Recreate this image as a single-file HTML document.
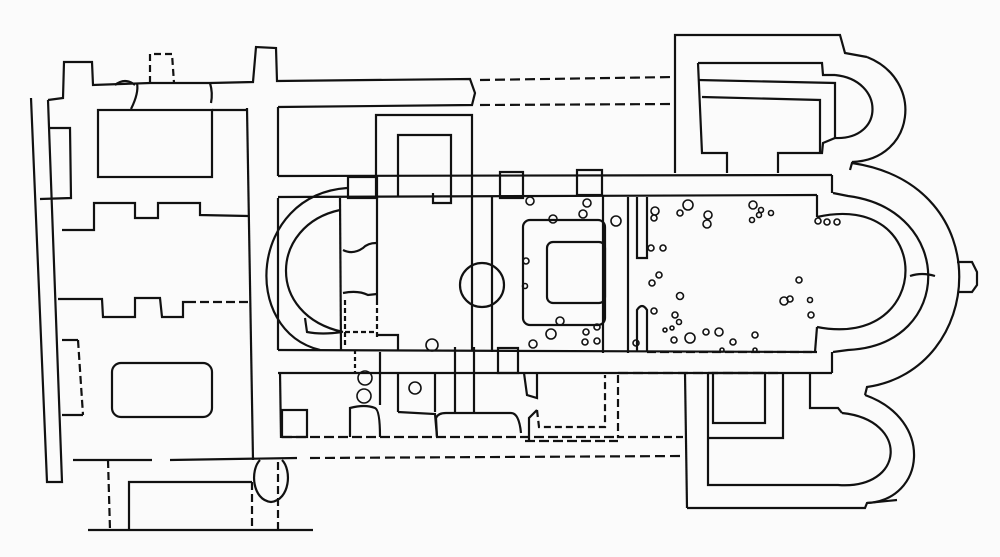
<!DOCTYPE html>
<html><head><meta charset="utf-8"><style>
html,body{margin:0;padding:0;background:#fbfbfb;}
svg{display:block}
</style></head><body>
<svg width="1000" height="557" viewBox="0 0 1000 557" xmlns="http://www.w3.org/2000/svg" fill="none" stroke="#111" stroke-width="2.2" stroke-linejoin="miter">
<rect width="1000" height="557" fill="#fbfbfb" stroke="none"/>
<g>
<polyline points="31,98 47,482 62,482 48,100"/>
<polyline points="48,100 63,98 64,62 92,62 93,85 150,83 210,83 253,82 256,47 276,48 277,81 470,79 475,93 472,105 278,107"/>
<path d="M115,85 q10,-8 20,0"/>
<polyline points="150,83 150,54 172,54 174,83" stroke-dasharray="7,4"/>
<path d="M137,83 q2,10 -6,26"/>
<path d="M210,83 q3,10 1,20"/>
<line x1="480" y1="80" x2="675" y2="77" stroke-dasharray="10,5"/>
<line x1="480" y1="105" x2="675" y2="104" stroke-dasharray="10,5"/>
<rect x="98" y="110" width="114" height="67"/>
<polyline points="50,128 70,128 71,198 40,199"/>
<line x1="247" y1="108" x2="253" y2="460"/>
<line x1="212" y1="110" x2="247" y2="110"/>
<polyline points="278,107 278,176"/>
<polyline points="278,198 278,350"/>
<polyline points="280,372 281,438"/>
<polyline points="62,230 94,230 94,203 135,203 135,218 158,218 158,203 200,203 200,215 248,216"/>
<polyline points="58,299 102,299 103,317 135,317 135,298 160,298 162,317 183,317 183,302 187,302"/>
<line x1="187" y1="302" x2="248" y2="302" stroke-dasharray="9,4"/>
<polyline points="62,340 78,340"/>
<line x1="78" y1="340" x2="83" y2="415" stroke-dasharray="8,4"/>
<line x1="83" y1="415" x2="62" y2="415"/>
<rect x="112" y="363" width="100" height="54" rx="9"/>
<line x1="73" y1="460" x2="152" y2="460"/>
<line x1="170" y1="460" x2="297" y2="458"/>
<line x1="310" y1="458" x2="685" y2="456" stroke-dasharray="10,5"/>
<line x1="108" y1="460" x2="110" y2="530" stroke-dasharray="8,4"/>
<polyline points="129,530 129,482 252,482"/>
<line x1="252" y1="482" x2="252" y2="530" stroke-dasharray="8,4"/>
<path d="M260,460 C250,470 252,500 271,502 C290,500 292,470 282,460"/>
<line x1="278" y1="462" x2="278" y2="530" stroke-dasharray="8,4"/>
<line x1="88" y1="530" x2="313" y2="530"/>

<line x1="278" y1="176" x2="832" y2="175"/>
<line x1="278" y1="197" x2="817" y2="195"/>
<line x1="278" y1="350" x2="817" y2="352"/>
<line x1="278" y1="373" x2="832" y2="373"/>
<line x1="832" y1="175" x2="832" y2="193"/>
<line x1="832" y1="352" x2="832" y2="373"/>
<polyline points="376,196 376,115 472,115 472,350"/>
<polyline points="398,196 398,135 451,135 451,203 433,203 433,193"/>
<rect x="348" y="177" width="29" height="21"/>
<rect x="500" y="172" width="23" height="26"/>
<rect x="577" y="170" width="25" height="25"/>
<line x1="492" y1="196" x2="492" y2="352"/>
<line x1="603" y1="195" x2="603" y2="353"/>
<line x1="628" y1="197" x2="628" y2="353"/>
<polyline points="637,197 637,258 647,258 647,197"/>
<path d="M637,352 L637,310 q5,-8 10,0 L647,352"/>
<line x1="647" y1="352" x2="815" y2="352" stroke-dasharray="9,4"/>
<path d="M347,188 C250,195 240,330 320,350"/>
<path d="M340,210 C270,225 265,315 343,332"/>
<line x1="340" y1="198" x2="341" y2="350"/>
<line x1="377" y1="198" x2="377" y2="300"/>
<line x1="377" y1="300" x2="377" y2="340" stroke-dasharray="5,3"/>
<line x1="345" y1="300" x2="345" y2="345" stroke-dasharray="5,3"/>
<path d="M343,250 q10,5 20,-2 q5,-5 13,-5"/>
<path d="M343,293 q15,-3 25,2 l9,-1"/>
<path d="M305,318 l2,14 q15,3 35,0"/>
<line x1="345" y1="332" x2="375" y2="332" stroke-dasharray="5,3"/>
<polyline points="377,335 398,335 398,350"/>
<circle cx="482" cy="285" r="22"/>
<rect x="523" y="220" width="82" height="105" rx="7"/>
<rect x="547" y="242" width="58" height="61" rx="6"/>
<path d="M833,193 L848,196 C955,210 955,345 848,350 L833,352"/>
<path d="M817,217 C935,190 935,350 817,327"/>
<line x1="817" y1="195" x2="817" y2="217"/>
<line x1="817" y1="327" x2="815" y2="352"/>
<path d="M910,276 q12,-4 25,0"/>
<path d="M850,170 L852,163 C1000,185 985,370 867,387 L865,395"/>
<polyline points="957,262 972,262 977,272 977,285 972,292 958,292"/>
<polyline points="675,173 675,35 840,35 845,53 867,57"/>
<path d="M867,57 C925,80 915,160 852,162"/>
<polyline points="698,63 822,63 823,75 835,75"/>
<path d="M835,75 C885,80 885,140 835,138 L823,143 L822,153 L778,153 L778,173"/>
<polyline points="698,63 702,153 727,153 727,173"/>
<polyline points="698,80 835,83 835,138"/>
<polyline points="702,97 820,100 820,153"/>
<line x1="685" y1="373" x2="687" y2="508"/>
<polyline points="687,508 865,508 867,503 897,500"/>
<path d="M865,395 C935,420 925,500 867,503"/>
<polyline points="810,373 810,408 838,408 842,413"/>
<path d="M842,413 C910,420 905,490 838,485 L708,485 L708,373"/>
<rect x="713" y="373" width="52" height="50"/>
<polyline points="783,373 783,438 708,438"/>
<line x1="618" y1="373" x2="783" y2="373" stroke-dasharray="10,5"/>
<polyline points="618,375 618,437 683,437" stroke-dasharray="8,4"/>
<rect x="282" y="410" width="25" height="27"/>
<line x1="282" y1="437" x2="618" y2="437" stroke-dasharray="10,4"/>
<line x1="525" y1="441" x2="618" y2="441" stroke-dasharray="10,4"/>
<line x1="355" y1="350" x2="355" y2="373" stroke-dasharray="4,3"/>
<line x1="380" y1="352" x2="380" y2="405"/>
<line x1="398" y1="373" x2="398" y2="412"/>
<polyline points="398,412 435,414 437,437"/>
<path d="M437,437 L436,418 q2,-5 10,-5 l65,0 q8,0 10,20"/>
<line x1="435" y1="373" x2="435" y2="412"/>
<line x1="455" y1="347" x2="455" y2="412"/>
<line x1="474" y1="347" x2="474" y2="412"/>
<rect x="498" y="348" width="20" height="25"/>
<polyline points="524,373 527,395 537,398 537,373"/>
<polyline points="537,410 529,418 529,441"/>
<polyline points="537,410 539,427 605,427 605,375" stroke-dasharray="7,4"/>
<path d="M350,437 L350,408 q15,-4 25,0 q5,2 5,29"/>
<g stroke-width="1.6">
<circle cx="365" cy="378" r="7"/><circle cx="364" cy="396" r="7"/><circle cx="415" cy="388" r="6"/>
<circle cx="432" cy="345" r="6"/><circle cx="530" cy="201" r="4"/><circle cx="587" cy="203" r="4"/>
<circle cx="553" cy="219" r="4"/><circle cx="583" cy="214" r="4"/><circle cx="616" cy="221" r="5"/>
<circle cx="526" cy="261" r="3"/><circle cx="525" cy="286" r="2.5"/><circle cx="560" cy="321" r="4"/>
<circle cx="551" cy="334" r="5"/><circle cx="586" cy="332" r="3"/><circle cx="597" cy="327" r="3"/>
<circle cx="585" cy="342" r="3"/><circle cx="597" cy="341" r="3"/><circle cx="533" cy="344" r="4"/>
<circle cx="655" cy="211" r="4"/><circle cx="654" cy="218" r="3"/><circle cx="688" cy="205" r="5"/>
<circle cx="680" cy="213" r="3"/><circle cx="708" cy="215" r="4"/><circle cx="707" cy="224" r="4"/>
<circle cx="753" cy="205" r="4"/><circle cx="761" cy="210" r="2.5"/><circle cx="771" cy="213" r="2.5"/>
<circle cx="759" cy="215" r="2.5"/><circle cx="752" cy="220" r="2.5"/><circle cx="818" cy="221" r="3"/>
<circle cx="827" cy="222" r="3"/><circle cx="837" cy="222" r="3"/><circle cx="651" cy="248" r="3"/>
<circle cx="663" cy="248" r="3"/><circle cx="652" cy="283" r="3"/><circle cx="659" cy="275" r="3"/>
<circle cx="680" cy="296" r="3.5"/><circle cx="654" cy="311" r="3"/><circle cx="675" cy="315" r="3"/>
<circle cx="679" cy="322" r="2.5"/><circle cx="674" cy="340" r="3"/><circle cx="690" cy="338" r="5"/>
<circle cx="706" cy="332" r="3"/><circle cx="719" cy="332" r="4"/><circle cx="733" cy="342" r="3"/>
<circle cx="722" cy="350" r="2"/><circle cx="755" cy="335" r="3"/><circle cx="755" cy="350" r="2"/>
<circle cx="799" cy="280" r="3"/><circle cx="784" cy="301" r="4"/><circle cx="790" cy="299" r="3"/>
<circle cx="810" cy="300" r="2.5"/><circle cx="811" cy="315" r="3"/><circle cx="636" cy="343" r="3"/>
<circle cx="665" cy="330" r="2"/><circle cx="672" cy="328" r="2"/>
</g>
</g>
</svg>
</body></html>
